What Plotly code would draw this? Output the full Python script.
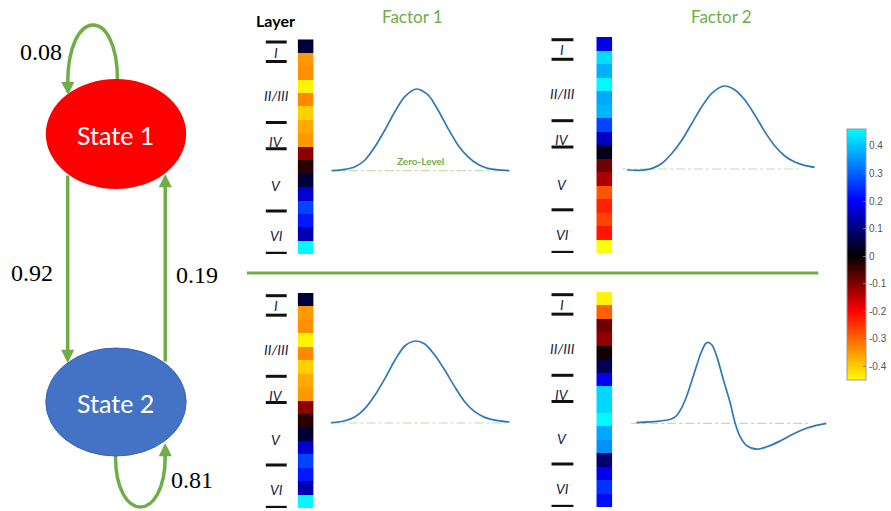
import plotly.graph_objects as go

W, H = 891, 511

# ---------------- data ----------------
# hidden-state transition probabilities
P_STAY_1 = 0.08
P_1_TO_2 = 0.92
P_2_TO_1 = 0.19
P_STAY_2 = 0.81

# cortical depth bins and layer annotation (in depth-bin units)
DEPTH_BINS = list(range(16))
LAYER_NAMES = ["I", "II/III", "IV", "V", "VI"]
LAYER_BOUNDS = [-0.3, 1.15, 5.7, 7.65, 12.3, 15.45]
LAYER_LABEL_DEPTH = [0.45, 3.7, 7.1, 10.4, 14.1]

# spatial loadings per depth bin
S1_F1_LOAD = [0.047, -0.35, -0.341, -0.44, -0.333, -0.404, -0.367, -0.35,
              -0.109, -0.034, 0.044, 0.163, 0.269, 0.224, 0.138, 0.455]
S1_F2_LOAD = [0.182, 0.425, 0.38, 0.455, 0.371, 0.385, 0.269, 0.151,
              0.02, -0.088, -0.133, -0.283, -0.233, -0.267, -0.22, -0.45]
S2_F1_LOAD = [0.047, -0.35, -0.341, -0.44, -0.333, -0.404, -0.367, -0.35,
              -0.109, -0.034, 0.044, 0.163, 0.269, 0.224, 0.138, 0.455]
S2_F2_LOAD = [-0.44, -0.294, -0.088, -0.113, -0.016, 0.067, 0.2, 0.42,
              0.42, 0.455, 0.371, 0.347, 0.088, 0.187, 0.25, 0.21]

# temporal profiles (normalised time, normalised amplitude)
S1_F1_T = [0, 0.075, 0.131, 0.187, 0.243, 0.299, 0.355, 0.411, 0.478, 0.542,
           0.598, 0.654, 0.710, 0.766, 0.822, 0.878, 0.944, 1.0]
S1_F1_V = [0, 0.017, 0.049, 0.131, 0.294, 0.498, 0.722, 0.906, 1.0, 0.927,
           0.743, 0.519, 0.315, 0.171, 0.078, 0.029, 0.009, 0]

S1_F2_T = [0, 0.062, 0.133, 0.186, 0.239, 0.292, 0.345, 0.398, 0.451, 0.519,
           0.575, 0.628, 0.681, 0.734, 0.788, 0.841, 0.894, 0.947, 1.0]
S1_F2_V = [-0.012, -0.016, 0.008, 0.069, 0.189, 0.349, 0.550, 0.751, 0.912, 1.0,
           0.952, 0.831, 0.651, 0.450, 0.277, 0.157, 0.084, 0.044, 0.020]

S2_F1_T = [0, 0.078, 0.134, 0.190, 0.246, 0.302, 0.358, 0.413, 0.473, 0.525,
           0.581, 0.637, 0.693, 0.749, 0.805, 0.861, 0.935, 1.0]
S2_F1_V = [0.004, 0.028, 0.077, 0.179, 0.341, 0.545, 0.768, 0.939, 1.0, 0.963,
           0.829, 0.646, 0.443, 0.260, 0.138, 0.069, 0.028, 0.012]

S2_F2_T = [0, 0.11, 0.18, 0.206, 0.232, 0.267, 0.302, 0.337, 0.363, 0.375,
           0.398, 0.424, 0.459, 0.494, 0.52, 0.546, 0.581, 0.634, 0.686,
           0.756, 0.826, 0.895, 0.947, 1.0]
S2_F2_V = [0.01, 0.025, 0.05, 0.082, 0.165, 0.35, 0.60, 0.85, 0.98, 1.0,
           0.966, 0.82, 0.53, 0.25, 0.0, -0.165, -0.276, -0.32, -0.29,
           -0.22, -0.132, -0.062, -0.025, 0.0]

# extent of the dashed zero-level reference (normalised time)
S1_F1_ZERO = [-0.007, 1.0]
S1_F2_ZERO = [-0.027, 0.929]
S2_F1_ZERO = [-0.004, 1.0]
S2_F2_ZERO = [-0.028, 0.91]

CB_TICKS = [-0.4, -0.3, -0.2, -0.1, 0, 0.1, 0.2, 0.3, 0.4]
CB_TICKTEXT = ["-0.4", "-0.3", "-0.2", "-0.1", "0", "0.1", "0.2", "0.3", "0.4"]
ZMIN, ZMAX = -0.45, 0.46

# ---------------- styling ----------------
GREEN = "#70AD47"
CURVE_BLUE = "#2E78BA"
ZERO_GREEN = "#C5DCB3"
LABEL_INK = "#1E1E40"


def xdom(a, b):
    return [a / W, b / W]


def ydom(top, bot):
    return [1 - bot / H, 1 - top / H]


def col(v):
    return (v - ZMIN) / (ZMAX - ZMIN)


COLORSCALE = [
    [0.0, "#FFFF00"],
    [col(-0.2), "#FF0000"],
    [col(0.0), "#000000"],
    [col(0.2), "#0000FF"],
    [1.0, "#00FFFF"],
]

panels = [
    dict(load=S1_F1_LOAD, t=S1_F1_T, v=S1_F1_V, zero=S1_F1_ZERO,
         strip=(299, 315, 39.3, 254), bars=(267, 288),
         curve=(333.3, 511.7, 170.7, 89.0)),
    dict(load=S1_F2_LOAD, t=S1_F2_T, v=S1_F2_V, zero=S1_F2_ZERO,
         strip=(599, 615, 37, 253), bars=(554, 576),
         curve=(630.0, 818.3, 169.0, 86.0)),
    dict(load=S2_F1_LOAD, t=S2_F1_T, v=S2_F1_V, zero=S2_F1_ZERO,
         strip=(299, 315, 293, 508), bars=(267, 288),
         curve=(332.7, 511.7, 423.0, 341.0)),
    dict(load=S2_F2_LOAD, t=S2_F2_T, v=S2_F2_V, zero=S2_F2_ZERO,
         strip=(599, 615, 292, 507), bars=(554, 576),
         curve=(639.3, 830.0, 423.3, 342.3)),
]

fig = go.Figure()
layout = dict(
    width=W, height=H,
    margin=dict(l=0, r=0, t=0, b=0),
    paper_bgcolor="white", plot_bgcolor="white",
    showlegend=False,
    coloraxis=dict(
        colorscale=COLORSCALE, cmin=ZMIN, cmax=ZMAX,
        colorbar=dict(
            x=851 / W, xanchor="left", y=1 - 129.3 / H, yanchor="top",
            len=251, lenmode="pixels", thickness=19, thicknessmode="pixels",
            xpad=0, ypad=0, outlinecolor="#9A9A9A", outlinewidth=1,
            tickvals=CB_TICKS, ticktext=CB_TICKTEXT,
            ticks="inside", ticklen=3, tickcolor="#777777",
            tickfont=dict(family="Liberation Sans", size=10, color="#555555"),
        ),
    ),
)
shapes = []
annotations = []

hidden = dict(visible=False, showgrid=False, zeroline=False, fixedrange=True)

for i, p in enumerate(panels):
    # ----- depth strip -----
    n = i + 1
    xs, ys = ("x" if n == 1 else f"x{n}"), ("y" if n == 1 else f"y{n}")
    x0, x1, top, bot = p["strip"]
    fig.add_trace(go.Heatmap(
        z=[[v] for v in p["load"]], x=[0], y=DEPTH_BINS,
        coloraxis="coloraxis", xaxis=xs, yaxis=ys, hoverinfo="skip",
    ))
    layout[f"xaxis{'' if n == 1 else n}"] = dict(
        hidden, domain=xdom(x0, x1), range=[-0.5, 0.5], anchor=ys)
    layout[f"yaxis{'' if n == 1 else n}"] = dict(
        hidden, domain=ydom(top, bot), range=[15.5, -0.5], anchor=xs)

    bx0, bx1 = p["bars"]
    for b in LAYER_BOUNDS:
        shapes.append(dict(type="line", xref="paper", yref=ys,
                           x0=bx0 / W, x1=bx1 / W, y0=b, y1=b,
                           line=dict(color="#111111", width=3)))
    for name, d in zip(LAYER_NAMES, LAYER_LABEL_DEPTH):
        annotations.append(dict(
            xref="paper", yref=ys, x=(bx0 + bx1) / 2 / W, y=d,
            text=f"<i>{name}</i>", showarrow=False,
            font=dict(family="Lato", size=14, color=LABEL_INK),
            xanchor="center", yanchor="middle"))

    # ----- temporal profile -----
    m = n + 4
    xc, yc = f"x{m}", f"y{m}"
    t0, t1, base, peak = p["curve"]
    w = t1 - t0
    h = base - peak
    L, R = t0 - 8, t1 + 8
    T, B = peak - 12, base + 35
    layout[f"xaxis{m}"] = dict(hidden, domain=xdom(L, R),
                               range=[(L - t0) / w, (R - t0) / w], anchor=yc)
    layout[f"yaxis{m}"] = dict(hidden, domain=ydom(T, B),
                               range=[(base - B) / h, (base - T) / h], anchor=xc)
    fig.add_trace(go.Scatter(
        x=p["zero"], y=[0, 0], mode="lines", xaxis=xc, yaxis=yc,
        line=dict(color=ZERO_GREEN, width=1.2, dash="dashdot"),
        hoverinfo="skip"))
    fig.add_trace(go.Scatter(
        x=p["t"], y=p["v"], mode="lines", xaxis=xc, yaxis=yc,
        line=dict(color=CURVE_BLUE, width=1.7, shape="spline", smoothing=0.8),
        hoverinfo="skip"))

annotations.append(dict(
    xref="x5", yref="y5", x=0.497, y=0.12, text="<b>Zero-Level</b>",
    showarrow=False, font=dict(family="Lato", size=10, color=GREEN)))

# ----- state diagram (own axis in pixel-like units) -----
layout["xaxis9"] = dict(hidden, domain=[0, 240 / W], range=[0, 240], anchor="y9")
layout["yaxis9"] = dict(hidden, domain=[0, 1], range=[H, 0], anchor="x9")
fig.add_trace(go.Scatter(x=[0], y=[0], mode="markers", xaxis="x9", yaxis="y9",
                         marker=dict(opacity=0), hoverinfo="skip"))

# self-loops
shapes.append(dict(type="path", xref="x9", yref="y9",
                   path="M 118,80 C 118,6 68,6 68,84",
                   line=dict(color=GREEN, width=3.5)))
shapes.append(dict(type="path", xref="x9", yref="y9",
                   path="M 116,456 C 116,524 166,524 166,456",
                   line=dict(color=GREEN, width=3.5)))

# states
shapes.append(dict(type="circle", xref="x9", yref="y9", layer="above",
                   x0=46, x1=187, y0=79, y1=189,
                   fillcolor="#FF0000", line=dict(color="#FF0000", width=0)))
shapes.append(dict(type="circle", xref="x9", yref="y9", layer="above",
                   x0=46, x1=187, y0=348, y1=456,
                   fillcolor="#4472C4", line=dict(color="#3A64AE", width=1)))

arrow = dict(xref="x9", yref="y9", axref="x9", ayref="y9", showarrow=True,
             arrowhead=2, arrowsize=0.75, arrowwidth=3.5, arrowcolor=GREEN,
             text="", standoff=0, startstandoff=0)
annotations += [
    dict(arrow, x=68, y=363, ax=68, ay=174),
    dict(arrow, x=166, y=174, ax=166, ay=363),
    dict(arrow, x=68.5, y=95, ax=68, ay=80),
    dict(arrow, x=166, y=443, ax=166, ay=460),
]

state_font = dict(family="Lato", size=25, color="white")
annotations += [
    dict(xref="x9", yref="y9", x=116.5, y=135, text="State 1",
         showarrow=False, font=state_font),
    dict(xref="x9", yref="y9", x=116.5, y=403, text="State 2",
         showarrow=False, font=state_font),
]

prob_font = dict(family="Liberation Serif", size=24, color="black")
for txt, x, y in [(P_STAY_1, 41, 52), (P_1_TO_2, 32, 273),
                  (P_2_TO_1, 198, 275), (P_STAY_2, 193, 480)]:
    annotations.append(dict(xref="x9", yref="y9", x=x, y=y,
                            text=f"{txt:.2f}", showarrow=False, font=prob_font))

# ----- headers and separator -----
head = dict(xref="paper", yref="paper", showarrow=False,
            xanchor="center", yanchor="middle")
annotations += [
    dict(head, x=277 / W, y=1 - 21 / H, text="<b>Layer</b>",
         font=dict(family="Lato", size=16, color="black")),
    dict(head, x=414 / W, y=1 - 16 / H, text="Factor 1",
         font=dict(family="Lato", size=17, color=GREEN)),
    dict(head, x=725 / W, y=1 - 16 / H, text="Factor 2",
         font=dict(family="Lato", size=17, color=GREEN)),
]
shapes.append(dict(type="line", xref="paper", yref="paper",
                   x0=248 / W, x1=822 / W, y0=1 - 273 / H, y1=1 - 273 / H,
                   line=dict(color=GREEN, width=3)))

layout["shapes"] = shapes
layout["annotations"] = annotations
fig.update_layout(**layout)
fig.write_html("out.html")
